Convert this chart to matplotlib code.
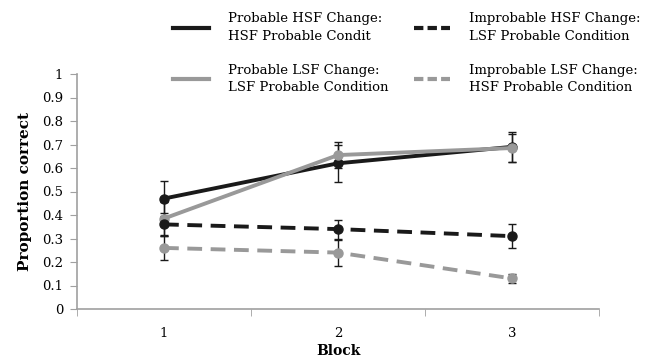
import matplotlib
matplotlib.use("Agg")
import matplotlib.pyplot as plt
from matplotlib.lines import Line2D

plt.rcParams['font.family'] = ['DejaVu Serif']

blocks = ["1", "2", "3"]
prob_hsf = [0.47, 0.62, 0.69]
prob_hsf_err = [0.075, 0.08, 0.063]
prob_lsf = [0.385, 0.655, 0.685]
prob_lsf_err = [0.07, 0.055, 0.06]
improb_hsf = [0.36, 0.34, 0.31]
improb_hsf_err = [0.05, 0.04, 0.05]
improb_lsf = [0.26, 0.24, 0.13]
improb_lsf_err = [0.05, 0.055, 0.02]

labels = ["Probable HSF Change:\nHSF Probable Condit",
          "Probable LSF Change:\nLSF Probable Condition",
          "Improbable HSF Change:\nLSF Probable Condition",
          "Improbable LSF Change:\nHSF Probable Condition"]

BLACK = "#1a1a1a"
GRAY = "#999999"
AX = "#a0a0a0"

fig = plt.figure(figsize=(6.54, 3.6), dpi=100)
ax = fig.add_axes([77/654, 1-309/360, (599-77)/654, (309-74)/360])

x = list(range(len(blocks)))
DASH = (0, (3.8, 2.2))
series = [
    (prob_hsf, prob_hsf_err, BLACK, '-'),
    (prob_lsf, prob_lsf_err, GRAY, '-'),
    (improb_hsf, improb_hsf_err, BLACK, DASH),
    (improb_lsf, improb_lsf_err, GRAY, DASH),
]
for vals, errs, col, ls in series:
    ax.errorbar(x, vals, yerr=errs, color=col, lw=2.8, ls=ls, marker='o', ms=6.5,
                ecolor=BLACK, elinewidth=1, capsize=3, capthick=1, zorder=3)

ax.set_xlim(-0.5, 2.5)
ax.set_ylim(0, 1)
ax.set_yticks([i/10 for i in range(11)])
ax.set_yticklabels(["0"] + [f"{i/10:.1f}" for i in range(1, 10)] + ["1"])
ax.set_xticks(x)
ax.set_xticklabels(blocks)
ax.set_xticks([-0.5, 0.5, 1.5, 2.5], minor=True)
ax.tick_params(axis='x', which='major', length=0, pad=13, labelsize=9.5)
ax.tick_params(axis='x', which='minor', length=5, color=AX, direction='out')
ax.tick_params(axis='y', length=5, color=AX, labelsize=9.5, pad=5)
for s in ['top', 'right']:
    ax.spines[s].set_visible(False)
for s in ['left', 'bottom']:
    ax.spines[s].set_color(AX)
    ax.spines[s].set_linewidth(1.2)

ax.set_ylabel("Proportion correct", fontweight='bold', fontsize=11, labelpad=7)
ax.set_xlabel("Block", fontweight='bold', fontsize=10, labelpad=3)

LDASH = (0, (2.25, 1.0))
handles = [
    Line2D([], [], color=BLACK, lw=3),
    Line2D([], [], color=GRAY, lw=3),
    Line2D([], [], color=BLACK, lw=3, ls=LDASH),
    Line2D([], [], color=GRAY, lw=3, ls=LDASH),
]
common = dict(loc='upper left', frameon=False, fontsize=9.5, handlelength=2.73,
              handletextpad=1.44, labelspacing=1.6, borderpad=0, borderaxespad=0)
legs = [fig.legend(handles[:2], labels[:2], bbox_to_anchor=(173/654, 1-12/360), **common),
        fig.legend(handles[2:], labels[2:], bbox_to_anchor=(414/654, 1-12/360), **common)]
for leg in legs:
    for t in leg.get_texts():
        t.set_linespacing(1.45)

fig.savefig("out.png", dpi=100)
